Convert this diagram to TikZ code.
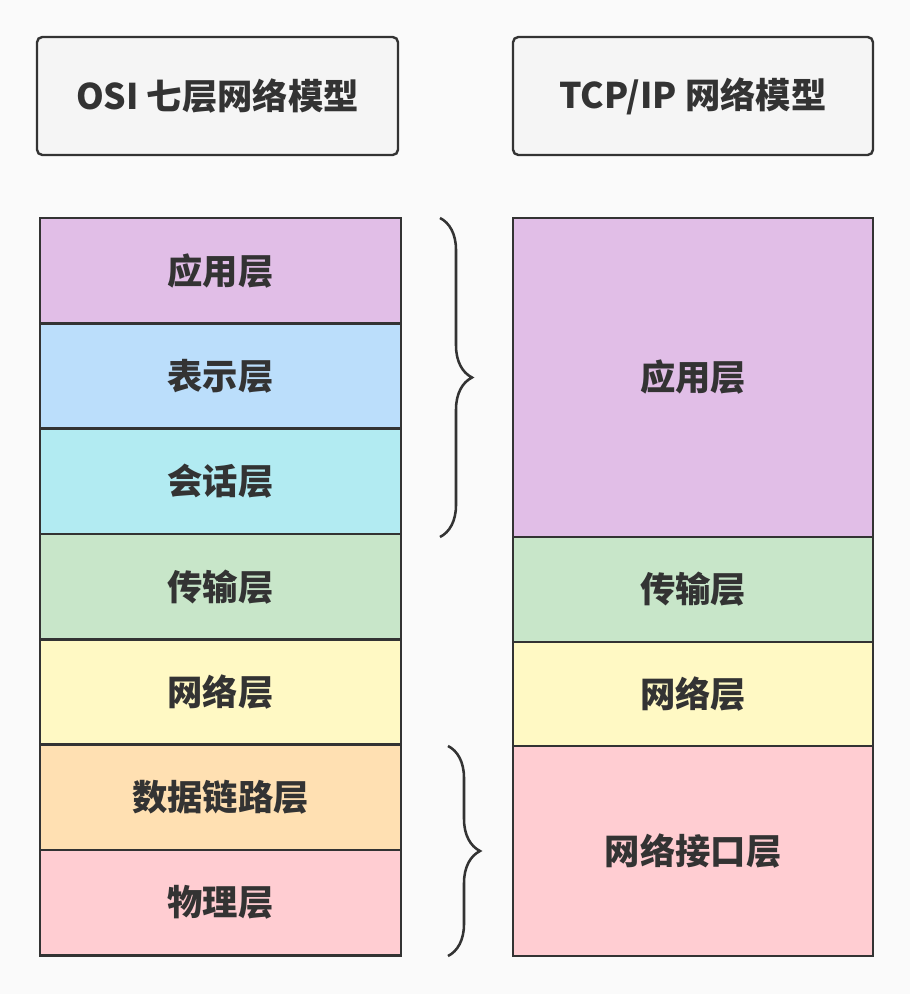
\documentclass[tikz,border=0pt]{standalone}
\usepackage{fontspec}
\setmainfont{Noto Sans CJK SC}
\usetikzlibrary{positioning,decorations.pathreplacing}
\definecolor{fond}{HTML}{FAFAFA}
\definecolor{trait}{HTML}{333333}
\definecolor{titre}{HTML}{F5F5F5}
\definecolor{violet}{HTML}{E1BEE7}
\definecolor{bleu}{HTML}{BBDEFB}
\definecolor{cyan}{HTML}{B2EBF2}
\definecolor{vert}{HTML}{C8E6C9}
\definecolor{jaune}{HTML}{FFF9C4}
\definecolor{orange}{HTML}{FFE0B2}
\definecolor{rose}{HTML}{FFCDD2}
\tikzset{
	boite/.style={draw=trait, line width=1.8pt, fill=titre, rounded corners=4pt,
		minimum width=270.75pt, minimum height=88.5pt, inner sep=0pt, outer sep=0pt,
		text=trait, font=\fontsize{26.5}{30}\selectfont\bfseries},
	couche/.style={draw=trait, line width=1.8pt, minimum width=270.75pt,
		minimum height=79pt, inner sep=0pt, outer sep=0pt,
		text=trait, font=\fontsize{26.5}{30}\selectfont\bfseries},
	accolade/.style={draw=trait, line width=1.9pt, decorate,
		decoration={brace, amplitude=24pt}}
}
\begin{document}
\begin{tikzpicture}[x=0.75pt, y=-0.75pt]
	\fill[fond] (0,0) rectangle (910,994);
	\useasboundingbox (0,0) rectangle (910,994);
	% les titres
	\node[boite] (osi) at (217.5,96) {OSI 七层网络模型};
	\node[boite, minimum width=270pt] (tcp) at (693,96) {TCP/IP 网络模型};
	% le modele OSI
	\node[couche, fill=violet, anchor=north] (app) at (220.5,218) {应用层};
	\node[couche, fill=bleu, below=0pt of app] (pres) {表示层};
	\node[couche, fill=cyan, below=0pt of pres] (sess) {会话层};
	\node[couche, fill=vert, below=0pt of sess] (trans) {传输层};
	\node[couche, fill=jaune, below=0pt of trans] (res) {网络层};
	\node[couche, fill=orange, below=0pt of res] (liai) {数据链路层};
	\node[couche, fill=rose, below=0pt of liai] (phys) {物理层};
	% le modele TCP/IP
	\node[couche, fill=violet, minimum width=270pt, minimum height=239.25pt, anchor=north] (tapp) at (693,218) {应用层};
	\node[couche, fill=vert, minimum width=270pt, minimum height=78.75pt, below=0pt of tapp] (ttrans) {传输层};
	\node[couche, fill=jaune, minimum width=270pt, minimum height=78pt, below=0pt of ttrans] (tres) {网络层};
	\node[couche, fill=rose, minimum width=270pt, minimum height=157.5pt, below=0pt of tres] (tint) {网络接口层};
	% les accolades
	\coordinate (a1) at (440,218);
	\coordinate (a2) at (440,537);
	\coordinate (b1) at (448,746);
	\coordinate (b2) at (448,956);
	\draw[accolade] (a1) -- (a2);
	\draw[accolade] (b1) -- (b2);
\end{tikzpicture}
\end{document}
